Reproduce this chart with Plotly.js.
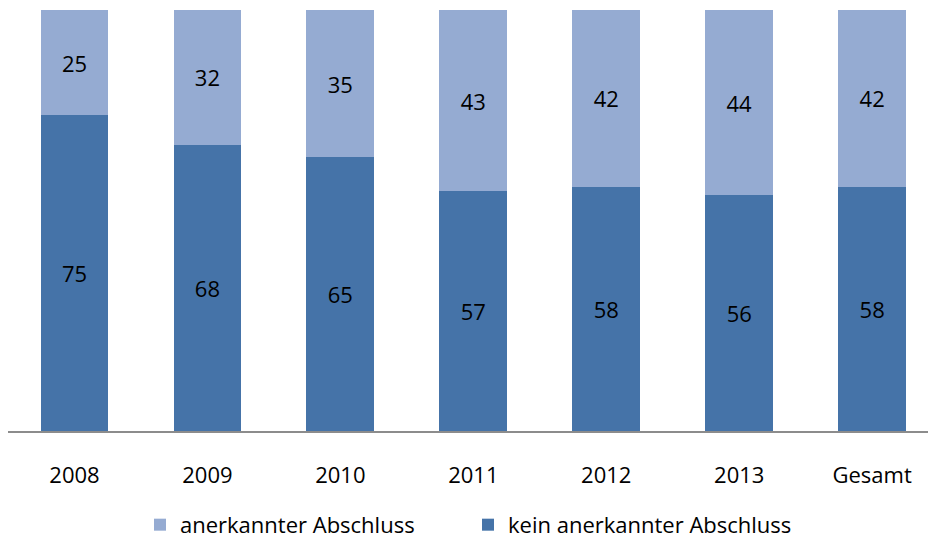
<!DOCTYPE html>
<html><head><meta charset="utf-8">
<script src="https://cdn.plot.ly/plotly-3.0.1.min.js"></script>
<style>html,body{margin:0;padding:0;background:#fff}#c{width:928px;height:540px}</style>
</head><body><div id="c"></div>
<script>
const categories = ["2008","2009","2010","2011","2012","2013","Gesamt"];
const keinAnerkannt = [75,68,65,57,58,56,58];
const anerkannt = [25,32,35,43,42,44,42];
const seriesNames = ["kein anerkannter Abschluss","anerkannter Abschluss"];
const fontFam = "'Open Sans', sans-serif";
const common = {type:'bar', x:categories, width:0.51, textposition:'inside', insidetextanchor:'middle',
  textfont:{color:'#000', size:22, family:fontFam}, hoverinfo:'skip', constraintext:'none'};
const data = [
  Object.assign({}, common, {name:seriesNames[0], y:keinAnerkannt, text:keinAnerkannt.map(String), marker:{color:'#4573A8', line:{width:0}}}),
  Object.assign({}, common, {name:seriesNames[1], y:anerkannt, text:anerkannt.map(String), marker:{color:'#95ABD2', line:{width:0}}})
];
const layout = {
  width:928, height:540, barmode:'stack', paper_bgcolor:'#fff', plot_bgcolor:'#fff',
  margin:{l:8, r:0, t:10, b:109, autoexpand:false},
  font:{family:fontFam, size:22, color:'#000'},
  xaxis:{type:'category', range:[-0.5,6.42], showline:true, linecolor:'#8c8c8c', linewidth:1.5, ticks:'', ticklabelstandoff:24,
    tickfont:{size:22, family:fontFam}, showgrid:false, zeroline:false, fixedrange:true},
  yaxis:{range:[0,100], visible:false, showgrid:false, zeroline:false},
  showlegend:true,
  legend:{orientation:'h', x:0.5, xanchor:'center', yref:'container', y:0.028, yanchor:'middle', traceorder:'reversed',
    font:{size:22, family:fontFam}, itemwidth:30, entrywidth:283, itemsizing:'constant'}
};
Plotly.newPlot('c', data, layout, {displayModeBar:false, staticPlot:true});
</script></body></html>
